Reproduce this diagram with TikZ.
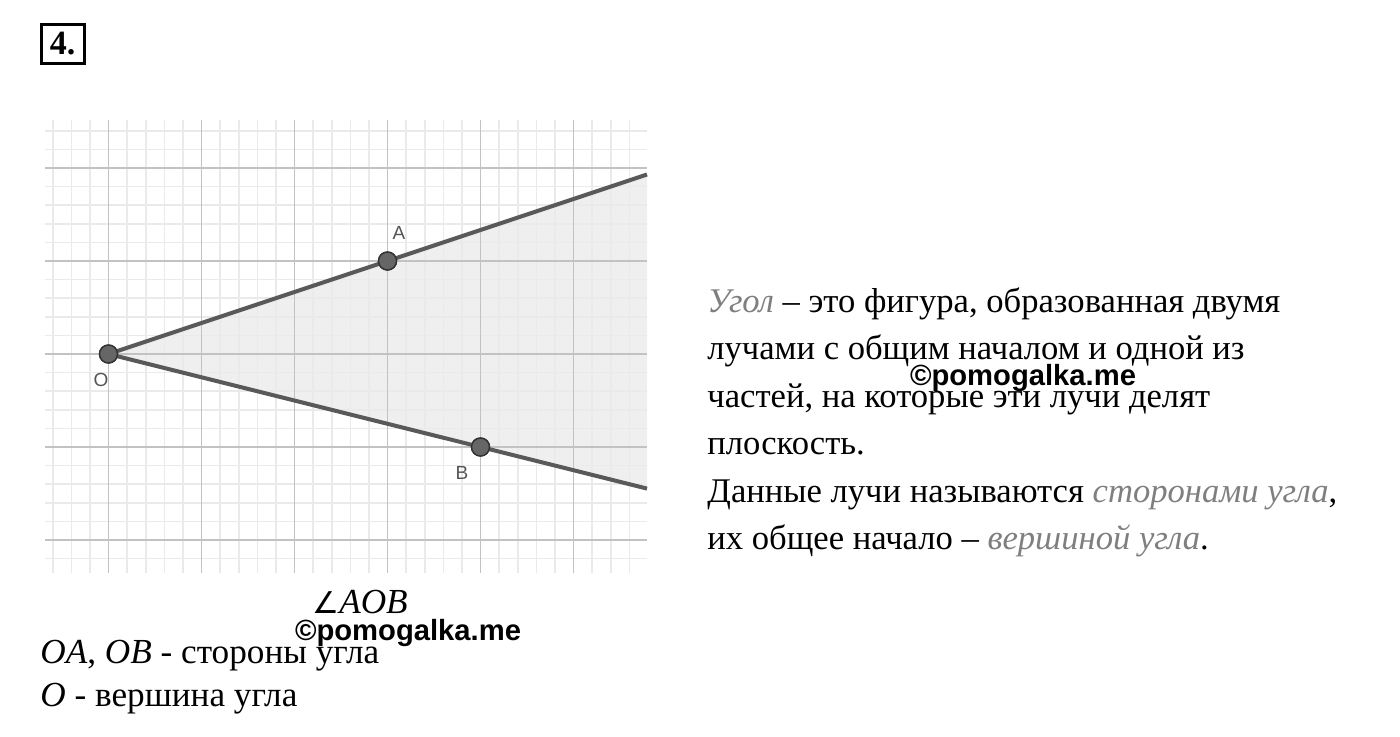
\documentclass[tikz,border=0pt]{standalone}
\usepackage{fontspec}
\setmainfont{Liberation Serif}
\newfontfamily\gsans{Liberation Sans}
\newfontfamily\symfont{DejaVu Sans}
\usetikzlibrary{calc}
\definecolor{minorc}{HTML}{EAEAEA}
\definecolor{majorc}{HTML}{C2C2C2}
\definecolor{fillc}{HTML}{EFEFEF}
\definecolor{rayc}{HTML}{595959}
\definecolor{ptc}{HTML}{666666}
\definecolor{lblc}{HTML}{555555}
\definecolor{termc}{HTML}{7F7F7F}
\tikzset{
  minorline/.style={draw=minorc, line width=0.8pt},
  majorline/.style={draw=majorc, line width=0.9pt},
  ray/.style={draw=rayc, line width=2pt},
  pt/.style={circle, fill=ptc, draw=black!80, line width=0.7pt, minimum size=9pt, inner sep=0pt},
  ptlabel/.style={font=\gsans\fontsize{9.5}{11}\selectfont, text=lblc, inner sep=0pt},
  body/.style={font=\fontsize{17.3}{20}\selectfont, anchor=base west, inner sep=0pt},
  note/.style={font=\fontsize{17.6}{20}\selectfont, anchor=base west, inner sep=0pt},
  wm/.style={font=\gsans\bfseries\fontsize{14.6}{16}\selectfont, inner sep=0pt},
}
\newcommand{\term}[1]{\textcolor{termc}{\textit{#1}}}
\begin{document}
\begin{tikzpicture}[x=0.5pt,y=-0.5pt]
\useasboundingbox (0,0) rectangle (1400,736);
% number box
\node[draw=black, line width=1.5pt, minimum width=21.5pt, minimum height=19.5pt, inner sep=0pt,
  font=\bfseries\fontsize{17}{20}\selectfont] (num) at (62.5,43.5) {4.};
% grid and angle
\begin{scope}
\clip (45,120) rectangle (647,573);
\coordinate (EA) at (647,174.5);
\coordinate (EB) at (647,488.6);
\fill[fillc] (108.5,354) -- (EA) -- (EB) -- cycle;
\foreach \k in {-3,...,28} {\draw[minorline] ({108.5+18.6*\k},120) -- ({108.5+18.6*\k},573);}
\foreach \k in {-12,...,11} {\draw[minorline] (45,{354+18.6*\k}) -- (647,{354+18.6*\k});}
\foreach \k in {0,1,2,3,4,5} {\draw[majorline] ({108.5+93*\k},120) -- ({108.5+93*\k},573);}
\foreach \k in {-2,-1,0,1,2} {\draw[majorline] (45,{354+93*\k}) -- (647,{354+93*\k});}
\end{scope}
\node[pt] (O) at (108.5,354) {};
\node[pt] (A) at (387.5,261) {};
\node[pt] (B) at (480.5,447) {};
\draw[ray] (O.center) -- (EA);
\draw[ray] (O.center) -- (EB);
\node[pt] at (O) {};
\node[pt] at (A) {};
\node[pt] at (B) {};
\node[ptlabel] (lA) at (399,233) {A};
\node[ptlabel] (lB) at (462,473) {B};
\node[ptlabel] (lO) at (101,380) {O};
% right paragraph
\node[body] (t1) at (707,312) {\term{Угол} – это фигура, образованная двумя};
\node[body] (t2) at (707,359.5) {лучами с общим началом и одной из};
\node[body] (t3) at (707,407) {частей, на которые эти лучи делят};
\node[body] (t4) at (707,454.5) {плоскость.};
\node[body] (t5) at (707,502) {Данные лучи называются \term{сторонами угла},};
\node[body] (t6) at (707,549.5) {их общее начало – \term{вершиной угла}.};
\node[wm] (w1) at (1023,378) {©pomogalka.me};
% bottom-left text
\node[note] (ang) at (312,613) {{\symfont\fontsize{15}{18}\selectfont ∠}\textit{AOB}};
\node[note] (s1) at (40,663) {\textit{OA}, \textit{OB} - стороны угла};
\node[note] (s2) at (40,706) {\textit{O} - вершина угла};
\node[wm] (w2) at (408,633) {©pomogalka.me};
\end{tikzpicture}
\end{document}
